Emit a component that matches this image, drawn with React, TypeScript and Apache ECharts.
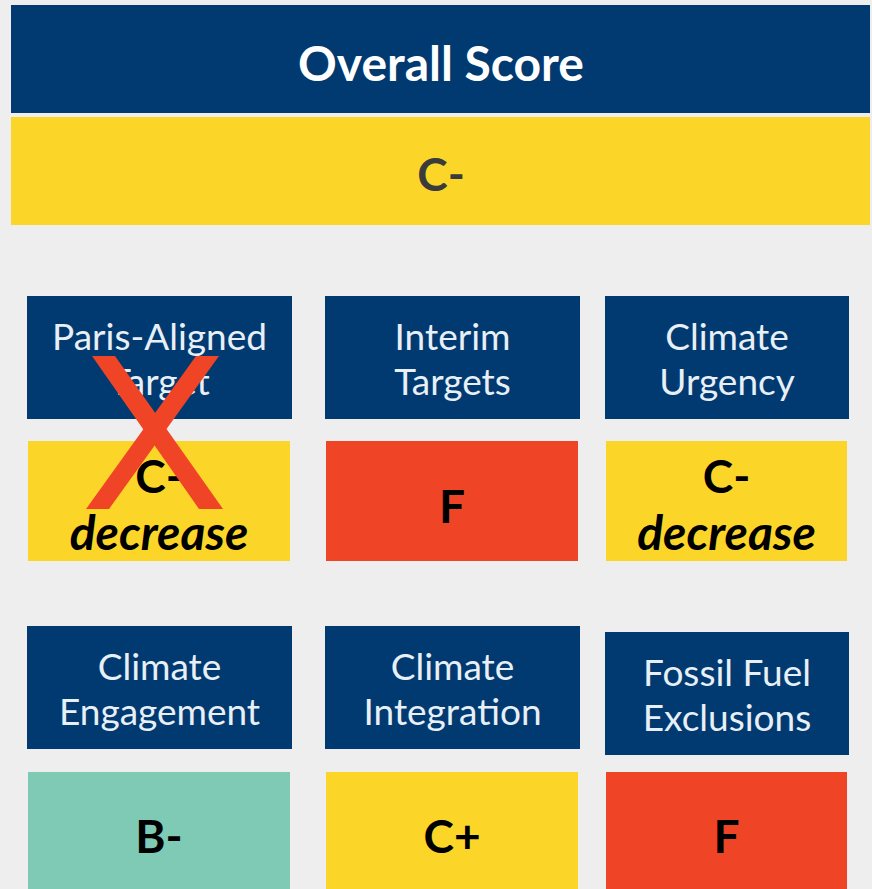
import React, { useEffect, useRef } from "react";
import * as echarts from "echarts";

const overallTitle = "Overall Score";
const overallGrade = "C-";
const categories = [
  ["Paris-Aligned", "Target"],
  ["Interim", "Targets"],
  ["Climate", "Urgency"],
  ["Climate", "Engagement"],
  ["Climate", "Integration"],
  ["Fossil Fuel", "Exclusions"],
];
const grades = ["C-", "F", "C-", "B-", "C+", "F"];
const notes = ["decrease", "", "decrease", "", "", ""];
const crossedOut = [true, false, false, false, false, false];

const NAVY = "#003a70";
const YELLOW = "#fbd629";
const RED = "#f04427";
const GREEN = "#7ecab5";
const gradeColor = (g: string) => (g.startsWith("F") ? RED : g.startsWith("B") ? GREEN : YELLOW);

// layout
const colX = [
  { hx: 27, hw: 265, gx: 28, gw: 262 },
  { hx: 325, hw: 255, gx: 326, gw: 252 },
  { hx: 605, hw: 244, gx: 606, gw: 241 },
];
const rowY = [
  [{ hy: 296, hh: 123, gy: 441, gh: 120 }, { hy: 296, hh: 123, gy: 441, gh: 120 }, { hy: 296, hh: 123, gy: 441, gh: 120 }],
  [{ hy: 626, hh: 123, gy: 772, gh: 130 }, { hy: 626, hh: 123, gy: 772, gh: 130 }, { hy: 632, hh: 123, gy: 772, gh: 130 }],
];
const FONT = "Lato, 'Open Sans', sans-serif";

export default function App() {
  const ref = useRef<HTMLDivElement>(null);
  useEffect(() => {
    document.body.style.margin = "0";
    const chart = echarts.init(ref.current!, null, { renderer: "svg" });
    const els: any[] = [];
    els.push({ type: "rect", shape: { x: 11, y: 5, width: 859, height: 108 }, style: { fill: NAVY } });
    els.push({
      type: "text", x: 441, y: 62,
      style: { text: overallTitle, fill: "#ffffff", fontSize: 48, fontWeight: "bold", fontFamily: FONT, align: "center", verticalAlign: "middle" },
    });
    els.push({ type: "rect", shape: { x: 11, y: 117, width: 859, height: 108 }, style: { fill: gradeColor(overallGrade) } });
    els.push({
      type: "text", x: 441, y: 173,
      style: { text: overallGrade, fill: "#3b3b3b", fontSize: 46, fontWeight: "bold", fontFamily: FONT, align: "center", verticalAlign: "middle" },
    });
    categories.forEach((lines, i) => {
      const r = Math.floor(i / 3);
      const c = i % 3;
      const cx = colX[c];
      const ry = rowY[r][c];
      els.push({ type: "rect", shape: { x: cx.hx, y: ry.hy, width: cx.hw, height: ry.hh }, style: { fill: NAVY } });
      const hc = ry.hy + ry.hh / 2;
      lines.forEach((t, k) => {
        els.push({
          type: "text", x: cx.hx + cx.hw / 2, y: hc + (k - 0.5) * 45,
          style: { text: t, fill: "#e8eff6", fontSize: 37, fontFamily: FONT, align: "center", verticalAlign: "middle" },
        });
      });
      els.push({ type: "rect", shape: { x: cx.gx, y: ry.gy, width: cx.gw, height: ry.gh }, style: { fill: gradeColor(grades[i]) } });
      const gcx = cx.gx + cx.gw / 2;
      const gc = r === 0 ? ry.gy + ry.gh / 2 + 4 : ry.gy + 63;
      if (notes[i]) {
        els.push({
          type: "text", x: gcx, y: gc - 30,
          style: { text: grades[i], fill: "#000", fontSize: 46, fontWeight: "bold", fontFamily: FONT, align: "center", verticalAlign: "middle" },
        });
        els.push({
          type: "text", x: gcx, y: gc + 26,
          style: { text: notes[i], fill: "#000", fontSize: 48, fontWeight: "bold", fontStyle: "italic", fontFamily: FONT, align: "center", verticalAlign: "middle" },
        });
      } else {
        els.push({
          type: "text", x: gcx, y: gc,
          style: { text: grades[i], fill: "#000", fontSize: 46, fontWeight: "bold", fontFamily: FONT, align: "center", verticalAlign: "middle" },
        });
      }
      if (crossedOut[i]) {
        const x0 = cx.hx + 65, x1 = cx.hx + 196, y0 = ry.hy + 60, y1 = ry.gy + 68;
        els.push({ type: "polygon", shape: { points: [[x0, y0], [x0 + 23, y0], [x1, y1], [x1 - 24, y1]] }, style: { fill: RED } });
        els.push({ type: "polygon", shape: { points: [[x1 - 27, y0], [x1 - 4, y0], [x0 - 6 + 23, y1], [x0 - 6, y1]] }, style: { fill: RED } });
      }
    });
    chart.setOption({ animation: false, backgroundColor: "#eeeeee", graphic: { elements: els } });
    return () => chart.dispose();
  }, []);
  return <div ref={ref} style={{ width: 872, height: 889, position: "fixed", left: 0, top: 0 }} />;
}
